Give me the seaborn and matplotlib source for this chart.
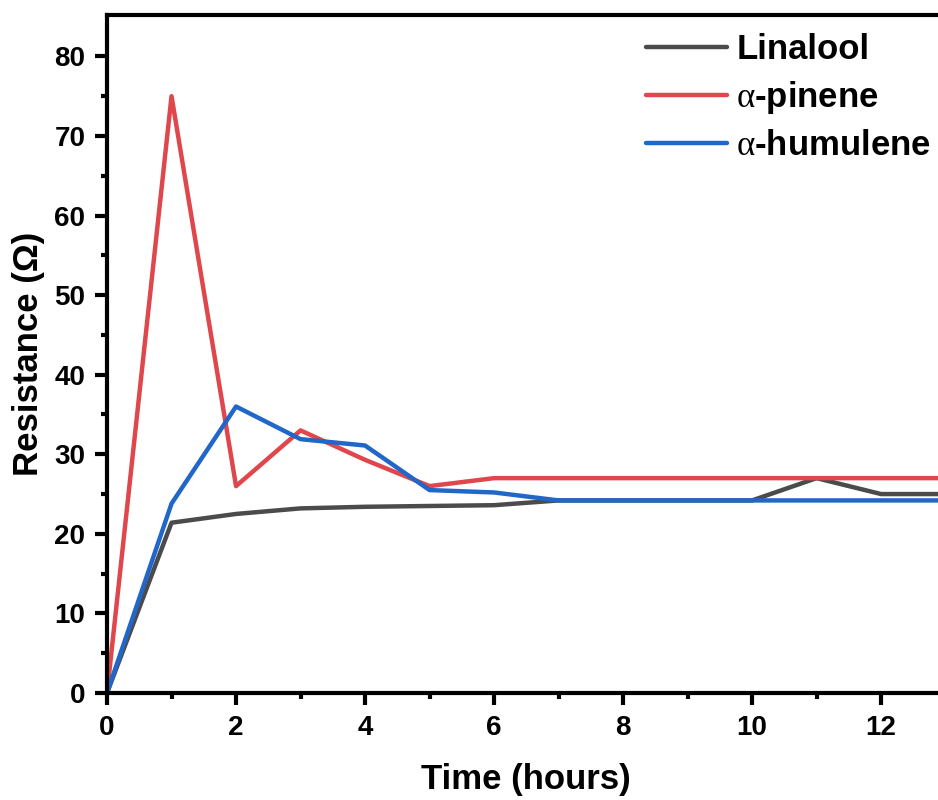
import pandas as pd
import numpy as np
import seaborn as sns
import matplotlib.pyplot as plt

# values
hours = [0, 1, 2, 3, 4, 5, 6, 7, 8, 9, 10, 11, 12, 13, 14]
linalool = [0, 21.4, 22.5, 23.2, 23.4, 23.5, 23.6, 24.2, 24.2, 24.2, 24.2, 27.0, 25.0, 25.0, 25.0]
pinene = [0, 75.0, 26.0, 33.0, 29.3, 26.0, 27.0, 27.0, 27.0, 27.0, 27.0, 27.0, 27.0, 27.0, 27.0]
humulene = [0, 23.8, 36.0, 31.9, 31.1, 25.5, 25.2, 24.2, 24.2, 24.2, 24.2, 24.2, 24.2, 24.2, 24.2]
names = ['Linalool', r'$\mathrm{\alpha}$-pinene', r'$\mathrm{\alpha}$-humulene']
colors = ['#4b4b4b', '#e0474c', '#2167c9']
xticks = [0, 2, 4, 6, 8, 10, 12]
yticks = [0, 10, 20, 30, 40, 50, 60, 70, 80]

df = pd.DataFrame({'Time': hours * 3,
                   'Resistance': linalool + pinene + humulene,
                   'Sample': [names[0]] * len(hours) + [names[1]] * len(hours) + [names[2]] * len(hours)})

sns.set_style("ticks")
plt.rcParams['font.family'] = ['Liberation Sans', 'DejaVu Sans']
plt.rcParams['font.weight'] = 'bold'
# serif, non-bold alpha like the reference
plt.rcParams['mathtext.fontset'] = 'custom'
plt.rcParams['mathtext.rm'] = 'Liberation Serif:normal'
plt.rcParams['text.color'] = 'black'
plt.rcParams['axes.edgecolor'] = 'black'
plt.rcParams['axes.labelcolor'] = 'black'
plt.rcParams['xtick.color'] = 'black'
plt.rcParams['ytick.color'] = 'black'

fig = plt.figure(figsize=(9.38, 8), dpi=100)
ax = fig.add_axes([0.1141, 0.13375, 0.894, 0.8475])
sns.lineplot(data=df, x='Time', y='Resistance', hue='Sample', palette=dict(zip(names, colors)),
             linewidth=3.2, ax=ax, legend=True)

ax.set_xlim(0, 13)
ax.set_ylim(0, 85.2)
ax.set_xticks(xticks)
ax.set_xticks([1, 3, 5, 7, 9, 11, 13], minor=True)
ax.set_yticks(yticks)
ax.set_yticks([5, 15, 25, 35, 45, 55, 65, 75], minor=True)
for s in ax.spines.values():
    s.set_linewidth(3)
ax.tick_params(which='major', length=8.5, width=3, labelsize=20, direction='out', pad=7)
ax.tick_params(which='minor', length=4.5, width=3, direction='out')
for lab in ax.get_xticklabels() + ax.get_yticklabels():
    lab.set_fontweight('bold')

ax.set_xlabel('Time (hours)', fontsize=25, fontweight='bold', labelpad=16)
ax.set_ylabel('Resistance (Ω)', fontsize=25, fontweight='bold', labelpad=7)

ax.legend(loc='upper left', bbox_to_anchor=(0.689, 0.959), bbox_transform=fig.transFigure,
          frameon=False, handlelength=2.33, handletextpad=0.26,
          labelspacing=0.38, borderpad=0, borderaxespad=0,
          prop={'weight': 'bold', 'size': 25})

fig.savefig('out.png', dpi=100)
